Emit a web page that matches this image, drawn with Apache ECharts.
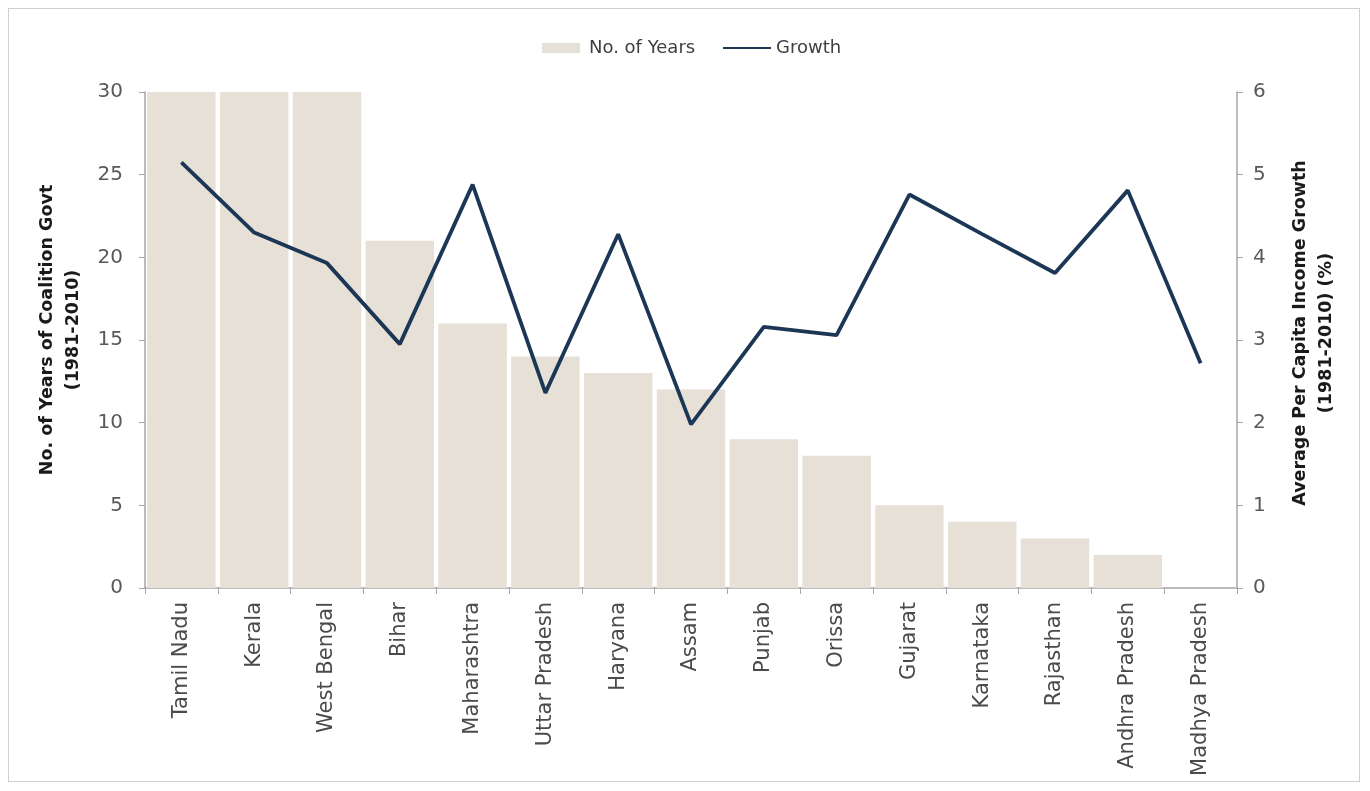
<!DOCTYPE html>
<html>
<head>
<meta charset="utf-8">
<script src="https://cdn.jsdelivr.net/npm/echarts@6/dist/echarts.min.js"></script>
<style>
  html, body { margin: 0; padding: 0; background: #ffffff; }
  #frame { position: absolute; left: 8px; top: 8px; width: 1352px; height: 774px; border: 1px solid #d0d0d0; box-sizing: border-box; }
  #chart { position: absolute; left: 0; top: 0; width: 1370px; height: 791px; }
</style>
</head>
<body>
<div id="frame"></div>
<div id="chart"></div>
<script>
// States ordered by years under coalition government
const states = ['Tamil Nadu', 'Kerala', 'West Bengal', 'Bihar', 'Maharashtra', 'Uttar Pradesh', 'Haryana', 'Assam', 'Punjab', 'Orissa', 'Gujarat', 'Karnataka', 'Rajasthan', 'Andhra Pradesh', 'Madhya Pradesh'];
// Number of years of coalition government, 1981-2010
const coalitionYears = [30, 30, 30, 21, 16, 14, 13, 12, 9, 8, 5, 4, 3, 2, 0];
// Average per capita income growth, 1981-2010 (%)
const incomeGrowth = [5.15, 4.3, 3.93, 2.95, 4.88, 2.36, 4.28, 1.98, 3.16, 3.06, 4.76, 4.28, 3.81, 4.81, 2.72];
// Axis tick settings
const leftTicks = { min: 0, max: 30, interval: 5 };
const rightTicks = { min: 0, max: 6, interval: 1 };

const font = '"DejaVu Sans", sans-serif';
const axisGrey = '#a6a6a6';
const labelGrey = '#595959';
const lineColor = '#1c3756';
const barColor = '#e6e0d6';

const legendText = { fontSize: 18, color: '#404040', fontFamily: font };
const titleText = { fontSize: 17.5, fontWeight: 'bold', color: '#1a1a1a', lineHeight: 26, fontFamily: font };

const chart = echarts.init(document.getElementById('chart'));
chart.setOption({
  animation: false,
  textStyle: { fontFamily: font },
  // two legend blocks so each key can have its own swatch size
  legend: [
    {
      top: 34, left: 537,
      itemWidth: 38, itemHeight: 10,
      textStyle: Object.assign({ padding: [0, 0, 0, 4] }, legendText),
      data: [{ name: 'No. of Years', icon: 'rect' }]
    },
    {
      top: 34, left: 717,
      itemWidth: 48, itemHeight: 16,
      textStyle: legendText,
      data: [{ name: 'Growth', itemStyle: { opacity: 0 } }]
    }
  ],
  grid: { left: 145, right: 133, top: 92, bottom: 203, containLabel: false },
  xAxis: {
    type: 'category',
    data: states,
    axisLine: { lineStyle: { color: axisGrey, width: 1.5 } },
    axisTick: { show: true, length: 6, lineStyle: { color: axisGrey } },
    axisLabel: { rotate: 90, fontSize: 21, color: '#4a4a4a', margin: 14, fontFamily: font, interval: 0 }
  },
  yAxis: [
    {
      type: 'value',
      min: leftTicks.min, max: leftTicks.max, interval: leftTicks.interval,
      position: 'left',
      name: 'No. of Years of Coalition Govt\n(1981-2010)',
      nameLocation: 'middle',
      nameRotate: 90,
      nameGap: 57,
      nameTextStyle: Object.assign({ padding: [0, 0, 0, 20] }, titleText),
      axisLine: { show: true, lineStyle: { color: axisGrey, width: 1.5 } },
      axisTick: { show: true, inside: false, length: 6, lineStyle: { color: axisGrey } },
      axisLabel: { fontSize: 20, color: labelGrey, margin: 22, fontFamily: font },
      splitLine: { show: false }
    },
    {
      type: 'value',
      min: rightTicks.min, max: rightTicks.max, interval: rightTicks.interval,
      position: 'right',
      name: 'Average Per Capita Income Growth\n(1981-2010) (%)',
      nameLocation: 'middle',
      nameRotate: 90,
      nameGap: 50,
      nameTextStyle: Object.assign({ padding: [0, 0, 0, 14] }, titleText),
      axisLine: { show: true, lineStyle: { color: axisGrey, width: 1.5 } },
      axisTick: { show: true, inside: false, length: 6, lineStyle: { color: axisGrey } },
      axisLabel: { fontSize: 20, color: labelGrey, margin: 16, fontFamily: font },
      splitLine: { show: false }
    }
  ],
  series: [
    {
      name: 'No. of Years',
      type: 'bar',
      yAxisIndex: 0,
      data: coalitionYears,
      barCategoryGap: '6%',
      itemStyle: { color: barColor }
    },
    {
      name: 'Growth',
      type: 'line',
      yAxisIndex: 1,
      data: incomeGrowth,
      symbol: 'none',
      lineStyle: { color: lineColor, width: 3.8 },
      itemStyle: { color: lineColor }
    }
  ]
});
</script>
</body>
</html>
